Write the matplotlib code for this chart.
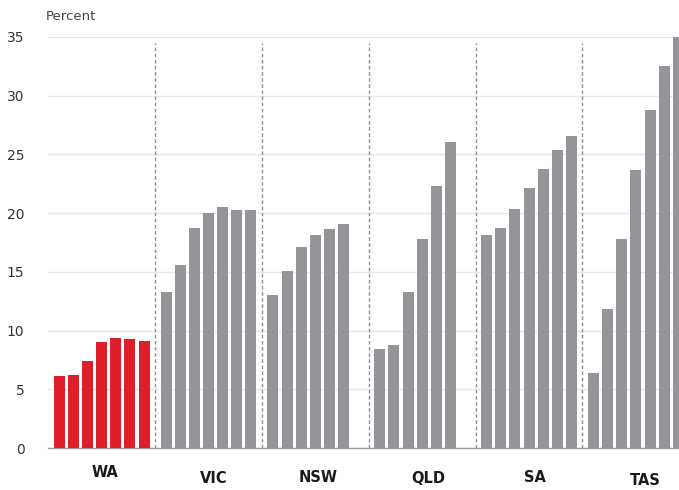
import matplotlib
matplotlib.use("Agg")
import matplotlib.pyplot as plt
import numpy as np

plt.rcParams['font.family'] = ['DejaVu Sans']

states = ["WA", "VIC", "NSW", "QLD", "SA", "TAS"]
wa = [6.1, 6.2, 7.45, 9.05, 9.4, 9.3, 9.15]
vic = [13.3, 15.6, 18.7, 20.05, 20.5, 20.3, 20.3]
nsw = [13.0, 15.1, 17.1, 18.1, 18.65, 19.1]
qld = [8.4, 8.8, 13.25, 17.8, 22.3, 26.05]
sa = [18.15, 18.7, 20.35, 22.1, 23.8, 25.35, 26.6]
tas = [6.35, 11.8, 17.8, 23.65, 28.75, 32.5, 35.0]
series = [wa, vic, nsw, qld, sa, tas]
yticks = [0, 5, 10, 15, 20, 25, 30, 35]

RED = "#dc1f2b"
GREY = "#939598"

fig = plt.figure(figsize=(6.79, 4.90), dpi=100)
W, H = 679, 490
ax = fig.add_axes([48 / W, 1 - 448 / H, 1 - 48 / W, (448 - 37) / H])

pitch = 7.56
label_off = [3.2, 3.4, 3.2, 3.4, 3.45, 3.7]
label_y = [472, 478, 477, 478, 477, 480]
for g, vals in enumerate(series):
    xs = g * pitch + np.arange(len(vals))
    ax.bar(xs, vals, width=0.78, color=RED if g == 0 else GREY, zorder=3)
    if g < len(series) - 1:
        sx = g * pitch + 6.78
        ax.plot([sx, sx], [0, 34.5], color="#8f8f8f", lw=1.0,
                ls=(0, (2.6, 1.8)), zorder=2)
    ax.text(g * pitch + label_off[g], (448 - label_y[g]) / (411 / 35), states[g],
            ha="center", va="center", fontsize=10.5, fontweight="bold",
            color="#1a1a1a", clip_on=False)

ax.set_xlim(-0.8, 43.85)
ax.set_ylim(0, 35)
ax.set_yticks(yticks)
ax.set_yticklabels([str(t) for t in yticks], fontsize=10, color="#333333")
ax.tick_params(axis="y", length=0, pad=17)
ax.tick_params(axis="x", length=0, labelbottom=False)
ax.yaxis.grid(True, color="#e6e6e6", lw=1.0, zorder=0)
ax.set_axisbelow(True)
for s in ["top", "right", "left"]:
    ax.spines[s].set_visible(False)
ax.spines["bottom"].set_color("#a0a0a0")
ax.spines["bottom"].set_linewidth(1.0)

fig.text(46 / W, 1 - 16 / H, "Percent", fontsize=9.5, color="#444444",
         ha="left", va="center")

fig.savefig("out.png", dpi=100)
